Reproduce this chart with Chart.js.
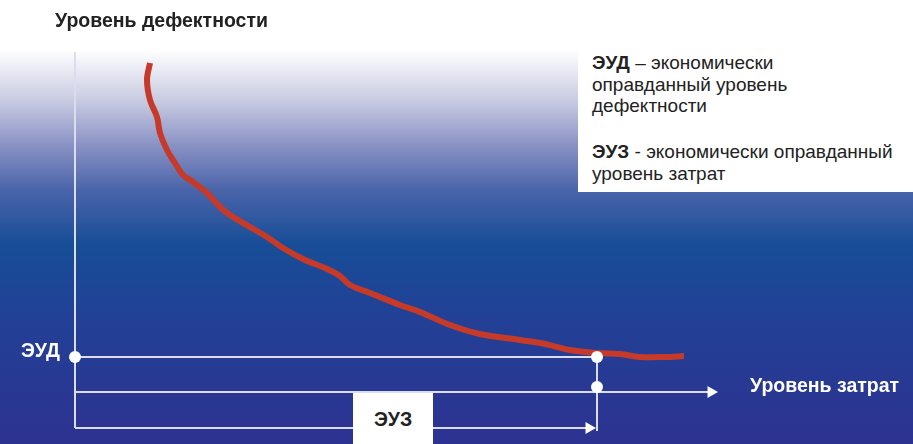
<!DOCTYPE html>
<html>
<head>
<meta charset="utf-8">
<script src="https://cdn.jsdelivr.net/npm/chart.js@4/dist/chart.umd.min.js"></script>
<style>
  html, body { margin: 0; padding: 0; background: #fff; }
  #wrap { position: relative; width: 913px; height: 444px; overflow: hidden; font-family: "Liberation Sans", Arial, sans-serif; }
  canvas { position: absolute; left: 0; top: 0; }
  .lbl { position: absolute; white-space: nowrap; font-weight: bold; font-size: 19.5px; line-height: 22px; }
  #title { left: 55px; top: 9px; color: #222; }
  #xlab { left: 750px; top: 374px; color: #fff; }
  #eud { left: 21px; top: 339px; color: #fff; }
  #euzbox { position: absolute; left: 353px; top: 393px; width: 80px; height: 51px; background: #fff;
            display: flex; align-items: center; justify-content: center; }
  #euzbox span { font-weight: bold; font-size: 19.5px; line-height: 22px; color: #222; }
  #legend { position: absolute; left: 578px; top: 40px; width: 335px; height: 152px; background: #fff; color: #222; font-size: 19px; line-height: 21.5px; }
  #legend p { margin: 0; position: absolute; left: 14px; white-space: nowrap; }
</style>
</head>
<body>
<div id="wrap">
  <canvas id="c" width="913" height="444"></canvas>
  <div class="lbl" id="title">Уровень дефектности</div>
  <div class="lbl" id="xlab">Уровень затрат</div>
  <div class="lbl" id="eud">ЭУД</div>
  <div id="euzbox"><span>ЭУЗ</span></div>
  <div id="legend">
    <p style="top:12px"><b>ЭУД</b> – экономически<br>оправданный уровень<br>дефектности</p>
    <p style="top:101px"><b>ЭУЗ</b> - экономически оправданный<br>уровень затрат</p>
  </div>
</div>
<script>
// Curve: defect level as a function of cost level (arbitrary units, origin at axes crossing)
const costLevel   = [75, 72, 75, 82, 85, 92, 100, 108, 118, 132, 145, 155, 175, 192, 208, 230, 250, 265, 275, 295, 325, 345, 375, 405, 445, 470, 495, 522, 545, 565, 590, 609];
const defectLevel = [329, 312, 292, 275, 259, 242, 229, 217, 210, 199, 185, 177, 165, 155, 144, 132, 124, 116, 107, 99, 87, 80, 67, 58, 52, 48, 42, 39, 38, 35, 35, 36];

// Key levels
const EUD = 35;        // economically justified defect level
const EUZ = 522;       // economically justified cost level
const yAxisTop = 340;  // top of vertical axis
const xAxisEnd = 643;  // tip of horizontal axis arrow
const euzArrowY = -36; // bracket arrow under the axis
const euzMarkY = 5;    // marker on vertical EUZ line
const xRange = [-75, 838];
const yRange = [-52, 392];

const LINE = '#dcdcf0';
const ARROW_R = 7;

const bgPlugin = {
  id: 'bg',
  beforeDraw(chart) {
    const ctx = chart.ctx;
    const h = chart.height, w = chart.width;
    const g = ctx.createLinearGradient(0, 0, 0, h);
    g.addColorStop(0, '#ffffff');
    g.addColorStop(50 / h, '#ffffff');
    g.addColorStop(105 / h, '#c3c6df');
    g.addColorStop(145 / h, '#8a92c4');
    g.addColorStop(190 / h, '#4a64aa');
    g.addColorStop(245 / h, '#174d97');
    g.addColorStop(320 / h, '#224096');
    g.addColorStop(1, '#2d3290');
    ctx.save();
    ctx.fillStyle = g;
    ctx.fillRect(0, 0, w, h);
    ctx.restore();
  }
};

const curve = costLevel.map((x, i) => ({ x, y: defectLevel[i] }));

new Chart(document.getElementById('c'), {
  type: 'line',
  data: {
    datasets: [
      { // markers
        data: [{ x: 0, y: EUD }, { x: EUZ, y: EUD }, { x: EUZ, y: euzMarkY }],
        showLine: false, pointRadius: 6, pointBackgroundColor: '#fff', pointBorderWidth: 0, order: 0
      },
      { // defect curve
        data: curve, borderColor: '#c63a29', borderWidth: 6, pointRadius: 0, tension: 0.35,
        borderCapStyle: 'butt', order: 1
      },
      { // vertical axis
        data: [{ x: 0, y: euzArrowY }, { x: 0, y: yAxisTop }], borderColor: LINE, borderWidth: 2, pointRadius: 0, order: 2
      },
      { // horizontal axis with arrow
        data: [{ x: 0, y: 0 }, { x: xAxisEnd - ARROW_R, y: 0 }], borderColor: LINE, borderWidth: 2,
        pointRadius: [0, ARROW_R], pointStyle: 'triangle', pointRotation: 90,
        pointBackgroundColor: '#fff', pointBorderWidth: 0, order: 2
      },
      { // EUD horizontal line
        data: [{ x: 0, y: EUD }, { x: EUZ, y: EUD }], borderColor: LINE, borderWidth: 2, pointRadius: 0, order: 2
      },
      { // EUZ vertical line
        data: [{ x: EUZ, y: EUD }, { x: EUZ, y: euzArrowY - 3 }], borderColor: LINE, borderWidth: 2, pointRadius: 0, order: 2
      },
      { // EUZ bracket arrow
        data: [{ x: 0, y: euzArrowY }, { x: EUZ - ARROW_R - 1, y: euzArrowY }], borderColor: LINE, borderWidth: 2,
        pointRadius: [0, ARROW_R], pointStyle: 'triangle', pointRotation: 90,
        pointBackgroundColor: '#fff', pointBorderWidth: 0, order: 2
      }
    ]
  },
  options: {
    responsive: false,
    animation: false,
    events: [],
    layout: { padding: 0, autoPadding: false },
    plugins: { legend: { display: false }, tooltip: { enabled: false } },
    scales: {
      x: { type: 'linear', min: xRange[0], max: xRange[1], display: false },
      y: { type: 'linear', min: yRange[0], max: yRange[1], display: false }
    }
  },
  plugins: [bgPlugin]
});
</script>
</body>
</html>
